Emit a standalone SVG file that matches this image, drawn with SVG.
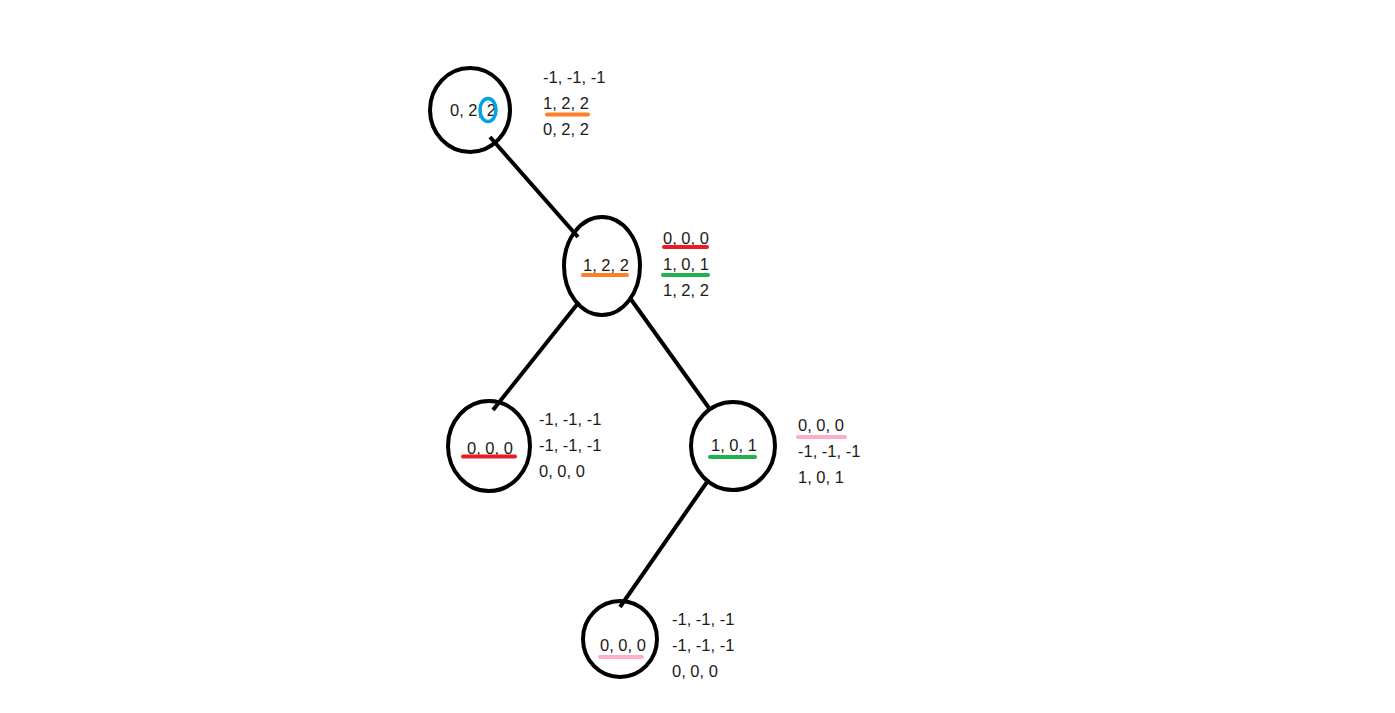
<svg xmlns="http://www.w3.org/2000/svg" width="1395" height="713" viewBox="0 0 1395 713">
  <style>
    .node { fill: none; stroke: #000; stroke-width: 4; }
    .edge { stroke: #000; stroke-width: 4; stroke-linecap: butt; }
    text { font-family: "Liberation Sans", Arial, sans-serif; font-size: 16.5px; fill: #1e1a14; }
    .ul { stroke-width: 4; stroke-linecap: round; }
    .orange { stroke: #ff7f27; }
    .red { stroke: #ed1c24; }
    .green { stroke: #22b14c; }
    .pink { stroke: #ffaec9; }
  </style>
  <rect width="1395" height="713" fill="#fff"/>

  <g id="connectors">
    <line class="edge" x1="490" y1="137" x2="578" y2="237"/>
    <line class="edge" x1="579" y1="302" x2="493" y2="410"/>
    <line class="edge" x1="630" y1="298" x2="709" y2="408"/>
    <line class="edge" x1="707" y1="482" x2="620" y2="607"/>
  </g>

  <g id="node-root">
    <ellipse class="node" cx="470" cy="110" rx="40" ry="42"/>
    <text x="450" y="116">0, 2, 2</text>
    <ellipse cx="488" cy="110" rx="8" ry="11.5" fill="none" stroke="#00a2e8" stroke-width="3.5"/>
    <text x="543" y="83">-1, -1, -1</text>
    <text x="543" y="109">1, 2, 2</text>
    <line class="ul orange" x1="547" y1="114.5" x2="588" y2="114.5"/>
    <text x="543" y="135">0, 2, 2</text>
  </g>

  <g id="node-122">
    <ellipse class="node" cx="602" cy="266" rx="38" ry="49"/>
    <text x="583" y="271">1, 2, 2</text>
    <line class="ul orange" x1="583" y1="275" x2="627" y2="275"/>
    <text x="663" y="244">0, 0, 0</text>
    <line class="ul red" x1="664" y1="247" x2="707" y2="247"/>
    <text x="663" y="270">1, 0, 1</text>
    <line class="ul green" x1="663" y1="275" x2="708" y2="275"/>
    <text x="663" y="296">1, 2, 2</text>
  </g>

  <g id="node-000-left">
    <ellipse class="node" cx="489" cy="446" rx="41" ry="45"/>
    <text x="467" y="454">0, 0, 0</text>
    <line class="ul red" x1="463" y1="456.5" x2="515" y2="456.5"/>
    <text x="539" y="425">-1, -1, -1</text>
    <text x="539" y="451">-1, -1, -1</text>
    <text x="539" y="477">0, 0, 0</text>
  </g>

  <g id="node-101">
    <ellipse class="node" cx="733" cy="446" rx="42" ry="44"/>
    <text x="711" y="451">1, 0, 1</text>
    <line class="ul green" x1="710" y1="457" x2="755" y2="457"/>
    <text x="798" y="431">0, 0, 0</text>
    <line class="ul pink" x1="798" y1="437" x2="845" y2="437"/>
    <text x="798" y="457">-1, -1, -1</text>
    <text x="798" y="483">1, 0, 1</text>
  </g>

  <g id="node-000-bottom">
    <ellipse class="node" cx="620" cy="639" rx="37" ry="38"/>
    <text x="600" y="651">0, 0, 0</text>
    <line class="ul pink" x1="600" y1="657" x2="642" y2="657"/>
    <text x="672" y="625">-1, -1, -1</text>
    <text x="672" y="651">-1, -1, -1</text>
    <text x="672" y="677">0, 0, 0</text>
  </g>
</svg>
